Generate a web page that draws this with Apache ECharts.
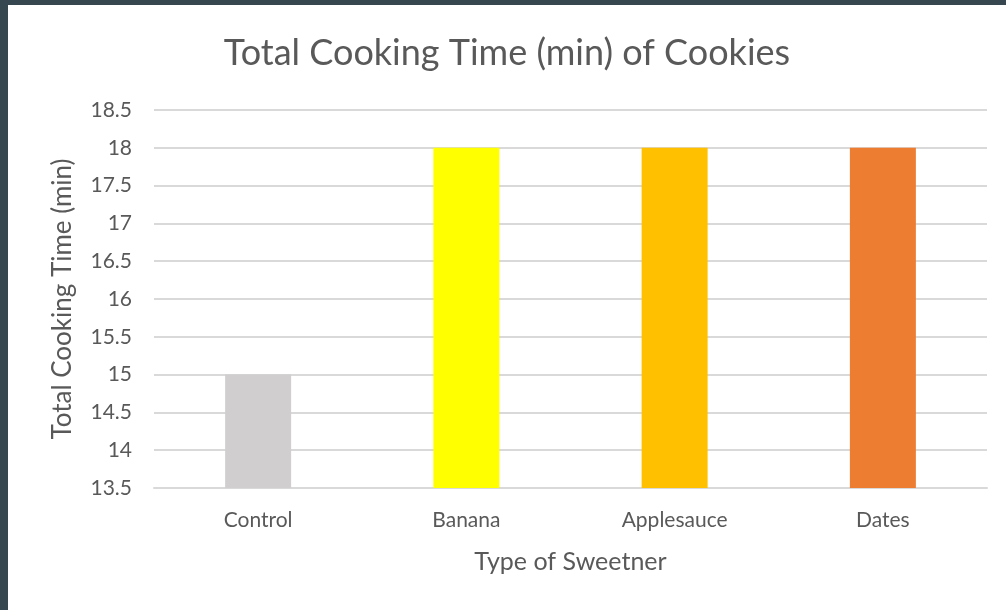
<!DOCTYPE html>
<html>
<head>
<meta charset="utf-8">
<script src="https://cdn.jsdelivr.net/npm/echarts@6/dist/echarts.min.js"></script>
<style>
  html, body { margin: 0; padding: 0; background: #37474f; }
  #frame { position: absolute; left: 8px; top: 5px; width: 998px; height: 605px; background: #ffffff; }
  #chart { width: 100%; height: 100%; }
</style>
</head>
<body>
<div id="frame"><div id="chart"></div></div>
<script>
// Sweetener types and their total cooking time (minutes)
const categories = ['Control', 'Banana', 'Applesauce', 'Dates'];
const cookingTimes = [15, 18, 18, 18];
const barColors = ['#d0cece', '#ffff00', '#ffc000', '#ed7d31'];
const yTicks = { min: 13.5, max: 18.5, interval: 0.5 };

const font = 'Lato, "Open Sans", sans-serif';
const textColor = '#595959';

const chart = echarts.init(document.getElementById('chart'));
chart.setOption({
  animation: false,
  backgroundColor: '#ffffff',
  title: {
    text: 'Total Cooking Time (min) of Cookies',
    left: 'center',
    top: 25,
    textStyle: { fontFamily: font, fontSize: 36, fontWeight: 'normal', color: textColor }
  },
  grid: { left: 146, right: 19, top: 105, bottom: 122 },
  xAxis: {
    type: 'category',
    data: categories,
    name: 'Type of Sweetner',
    nameLocation: 'middle',
    nameGap: 61,
    nameTextStyle: { fontFamily: font, fontSize: 25, color: textColor },
    axisLine: { lineStyle: { color: '#d9d9d9', width: 2 } },
    axisTick: { show: false },
    axisLabel: { fontFamily: font, fontSize: 21, color: textColor, margin: 22 }
  },
  yAxis: {
    type: 'value',
    min: yTicks.min,
    max: yTicks.max,
    interval: yTicks.interval,
    name: 'Total Cooking Time (min)',
    nameLocation: 'middle',
    nameGap: 78,
    nameTextStyle: { fontFamily: font, fontSize: 26, color: textColor },
    axisLine: { show: false },
    axisTick: { show: false },
    axisLabel: {
      fontFamily: font, fontSize: 21, color: textColor, margin: 22,
      formatter: v => String(Math.round(v * 10) / 10)
    },
    splitLine: { lineStyle: { color: '#d9d9d9', width: 2 } }
  },
  series: [{
    type: 'bar',
    data: cookingTimes.map((v, i) => ({ value: v, itemStyle: { color: barColors[i] } })),
    barWidth: 66
  }]
});
</script>
</body>
</html>
